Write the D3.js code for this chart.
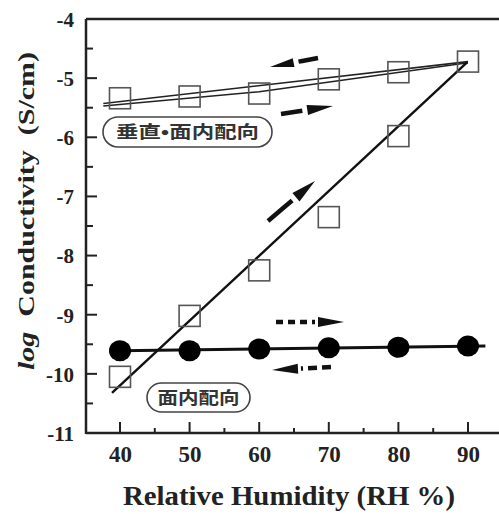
<!DOCTYPE html>
<html><head><meta charset="utf-8">
<script src="https://cdn.jsdelivr.net/npm/d3@7"></script>
<style>body{margin:0;background:#fff}svg{display:block}</style>
</head><body><svg id="c" width="499" height="514"></svg>
<script>
// ---- data ----
const rh = [40, 50, 60, 70, 80, 90];
const sqUpper = [-5.34, -5.31, -5.26, -5.02, -4.90, -4.72];   // squares, upper branch
const sqLower = [-10.05, -9.02, -8.25, -7.35, -5.98];          // squares, lower branch (40..80)
const circles = [-9.61, -9.61, -9.58, -9.56, -9.55, -9.53];   // filled circles
const fitDiagX = [38.85, 89.9];  const fitDiagY = [-10.32, -4.73];
const fitUpAX = [37.6, 90];      const fitUpAY = [-5.43, -4.72];
const fitUpBX = [37.6, 60, 90];  const fitUpBY = [-5.47, -5.23, -4.74];
const fitCircX = [40, 92.5];     const fitCircY = [-9.61, -9.53];
const xTicks = [40, 50, 60, 70, 80, 90];
const yTicks = [-11, -10, -9, -8, -7, -6, -5, -4];

const svg = d3.select("#c");
const x = d3.scaleLinear().domain([40, 90]).range([120, 468]);
const y = d3.scaleLinear().domain([-11, -4]).range([433, 19]);
const x0 = 86, x1 = 510;

// frame
const g = svg.append("g");
g.append("line").attr("x1", x0).attr("x2", x1).attr("y1", 19).attr("y2", 19).attr("stroke", "#222").attr("stroke-width", 2.5);
const xAxis = d3.axisBottom(x).tickValues(xTicks).tickSize(0).tickFormat(d => String(d));
const ax = svg.append("g").attr("transform", "translate(0,433)").call(xAxis);
ax.select(".domain").remove();
ax.selectAll("text").attr("dy", 0).attr("y", 29).attr("font-family", "Liberation Serif").attr("font-weight", "bold").attr("font-size", 23).attr("fill", "#222");
const yAxis = d3.axisLeft(y).tickValues(yTicks).tickSize(0).tickFormat(d => String(d));
const ay = svg.append("g").attr("transform", "translate(86,0)").call(yAxis);
ay.select(".domain").remove();
ay.selectAll("text").attr("x", -12).attr("dy", "0.35em").attr("font-family", "Liberation Serif").attr("font-weight", "bold").attr("font-size", 21).attr("fill", "#222");
g.append("line").attr("x1", x0).attr("x2", x1).attr("y1", 433).attr("y2", 433).attr("stroke", "#222").attr("stroke-width", 2.5);
g.append("line").attr("x1", x0).attr("x2", x0).attr("y1", 19).attr("y2", 434).attr("stroke", "#222").attr("stroke-width", 2.5);
// inward ticks
const xMinor = d3.range(45, 100, 10);
xTicks.forEach(v => g.append("line").attr("x1", x(v)).attr("x2", x(v)).attr("y1", 433).attr("y2", 422).attr("stroke", "#222").attr("stroke-width", 2));
xMinor.forEach(v => { if (x(v) < 499) g.append("line").attr("x1", x(v)).attr("x2", x(v)).attr("y1", 433).attr("y2", 428).attr("stroke", "#222").attr("stroke-width", 2); });
yTicks.forEach(v => g.append("line").attr("x1", 86).attr("x2", 97).attr("y1", y(v)).attr("y2", y(v)).attr("stroke", "#222").attr("stroke-width", 2));
d3.range(-10.5, -4, 1).forEach(v => g.append("line").attr("x1", 86).attr("x2", 93).attr("y1", y(v)).attr("y2", y(v)).attr("stroke", "#222").attr("stroke-width", 2));

// axis titles
svg.append("text").attr("transform", "translate(34,211) rotate(-90)").attr("text-anchor", "middle")
  .attr("font-family", "Liberation Serif").attr("font-weight", "bold").attr("font-size", 24).attr("fill", "#222")
  .attr("textLength", 318).attr("lengthAdjust", "spacingAndGlyphs")
  .call(t => { t.append("tspan").attr("font-style", "italic").text("log"); t.append("tspan").text("\u00a0 Conductivity \u00a0(S/cm)"); });
svg.append("text").attr("x", 289).attr("y", 505).attr("text-anchor", "middle")
  .attr("font-family", "Liberation Serif").attr("font-weight", "bold").attr("font-size", 27).attr("fill", "#222")
  .attr("textLength", 332).attr("lengthAdjust", "spacingAndGlyphs").text("Relative Humidity (RH %)");

// lines
const line = d3.line().x(d => x(d[0])).y(d => y(d[1]));
const zip = (a, b) => a.map((v, i) => [v, b[i]]);
svg.append("path").attr("d", line(zip(fitUpAX, fitUpAY))).attr("fill", "none").attr("stroke", "#222").attr("stroke-width", 1.6);
svg.append("path").attr("d", line(zip(fitUpBX, fitUpBY))).attr("fill", "none").attr("stroke", "#222").attr("stroke-width", 1.6);
svg.append("path").attr("d", line(zip(fitDiagX, fitDiagY))).attr("fill", "none").attr("stroke", "#111").attr("stroke-width", 2.4);
svg.append("path").attr("d", line(zip(fitCircX, fitCircY))).attr("fill", "none").attr("stroke", "#111").attr("stroke-width", 3);

// markers
const S = 21;
svg.append("g").selectAll("rect").data(zip(rh, sqUpper).concat(zip(rh.slice(0, 5), sqLower))).join("rect")
  .attr("x", d => x(d[0]) - S / 2).attr("y", d => y(d[1]) - S / 2).attr("width", S).attr("height", S)
  .attr("fill", "none").attr("stroke", "#555").attr("stroke-width", 1.6);
svg.append("g").selectAll("ellipse").data(zip(rh, circles)).join("ellipse")
  .attr("cx", d => x(d[0])).attr("cy", d => y(d[1])).attr("rx", 11).attr("ry", 10.5).attr("fill", "#000");

// arrows (tail -> tip, in data coords)
function arrow(t, p, dash, headLen, headW, gap) {
  const X0 = x(t[0]), Y0 = y(t[1]), X1 = x(p[0]), Y1 = y(p[1]);
  const L = Math.hypot(X1 - X0, Y1 - Y0), ux = (X1 - X0) / L, uy = (Y1 - Y0) / L;
  const bx = X1 - ux * headLen, by = Y1 - uy * headLen;
  svg.append("line").attr("x1", X0).attr("y1", Y0).attr("x2", bx - ux * gap).attr("y2", by - uy * gap)
    .attr("stroke", "#111").attr("stroke-width", 4.5).attr("stroke-dasharray", dash);
  svg.append("path").attr("d", `M${X1},${Y1}L${bx - uy * headW / 2},${by + ux * headW / 2}L${bx + uy * headW / 2},${by - ux * headW / 2}Z`).attr("fill", "#111");
}
arrow([x.invert(318), y.invert(58)], [x.invert(270), y.invert(67)], "16,0", 24, 9, 5);
arrow([x.invert(281), y.invert(114)], [x.invert(333), y.invert(106)], "18,0", 26, 10, 5);
arrow([x.invert(268), y.invert(221)], [x.invert(315), y.invert(181)], "20,0", 25, 11, 5);
arrow([x.invert(276), y.invert(322)], [x.invert(344), y.invert(322)], "7,5", 26, 10, 3);
arrow([x.invert(331), y.invert(367)], [x.invert(272), y.invert(370)], "9,5", 26, 10, 3);

// labels
function pill(x0_, y0_, w, h, txt, tl) {
  svg.append("rect").attr("x", x0_).attr("y", y0_).attr("width", w).attr("height", h).attr("rx", h / 2)
    .attr("fill", "#fff").attr("stroke", "#444").attr("stroke-width", 1.6);
  svg.append("text").attr("x", x0_ + w / 2).attr("y", y0_ + h / 2).attr("dy", "0.36em").attr("text-anchor", "middle")
    .attr("font-family", "Noto Sans CJK JP").attr("font-weight", "bold").attr("font-size", 17).attr("fill", "#333")
    .attr("textLength", tl).attr("lengthAdjust", "spacingAndGlyphs").text(txt);
}
pill(103, 117, 169, 30, "垂直•面内配向", 143);
pill(147, 383, 103, 29, "面内配向", 82);
</script></body></html>
